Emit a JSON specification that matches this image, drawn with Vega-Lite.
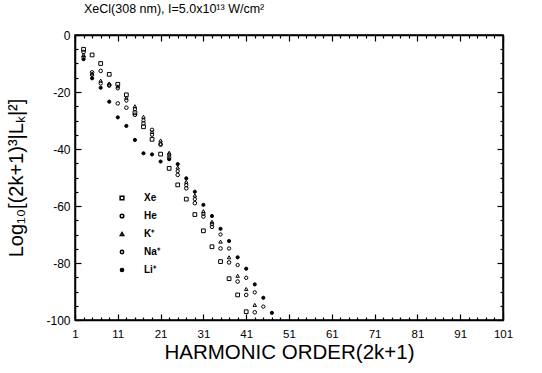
{
  "$schema": "https://vega.github.io/schema/vega-lite/v6.json",
  "width": 428,
  "height": 285,
  "autosize": "none",
  "padding": {"left": 75, "top": 35, "right": 39, "bottom": 53},
  "background": "white",
  "config": {
    "font": "Liberation Sans",
    "view": {"stroke": "black", "strokeWidth": 1.5},
    "axis": {"grid": false, "domainColor": "black", "domainWidth": 1.5, "tickColor": "black", "tickWidth": 1.2, "labelColor": "black", "titleColor": "black", "titleFontWeight": "normal", "labelFont": "Liberation Sans", "titleFont": "Liberation Sans"}
  },
  "title": {"text": "XeCl(308 nm), I=5.0x10¹³ W/cm²", "anchor": "start", "frame": "group", "fontSize": 12.5, "fontWeight": "normal", "offset": 14, "dx": 9, "font": "Liberation Sans", "color": "black"},
  "data": {"values": [
    {"s": "Xe", "h": 3, "v": -5}, {"s": "Xe", "h": 5, "v": -7}, {"s": "Xe", "h": 7, "v": -10}, {"s": "Xe", "h": 9, "v": -13.8}, {"s": "Xe", "h": 11, "v": -17.3}, {"s": "Xe", "h": 13, "v": -21}, {"s": "Xe", "h": 15, "v": -27.3}, {"s": "Xe", "h": 17, "v": -32.2}, {"s": "Xe", "h": 19, "v": -36.6}, {"s": "Xe", "h": 21, "v": -41.8}, {"s": "Xe", "h": 23, "v": -46.8}, {"s": "Xe", "h": 25, "v": -52.6}, {"s": "Xe", "h": 27, "v": -57.6}, {"s": "Xe", "h": 29, "v": -63}, {"s": "Xe", "h": 31, "v": -68.7}, {"s": "Xe", "h": 33, "v": -74.3}, {"s": "Xe", "h": 35, "v": -79.5}, {"s": "Xe", "h": 37, "v": -85.5}, {"s": "Xe", "h": 39, "v": -91.2}, {"s": "Xe", "h": 41, "v": -97.1},
    {"s": "He", "h": 3, "v": -6}, {"s": "He", "h": 5, "v": -13.1}, {"s": "He", "h": 7, "v": -12.6}, {"s": "He", "h": 9, "v": -17.5}, {"s": "He", "h": 11, "v": -24}, {"s": "He", "h": 13, "v": -25.5}, {"s": "He", "h": 15, "v": -28}, {"s": "He", "h": 17, "v": -31}, {"s": "He", "h": 19, "v": -33.3}, {"s": "He", "h": 21, "v": -38.5}, {"s": "He", "h": 23, "v": -43}, {"s": "He", "h": 25, "v": -49.1}, {"s": "He", "h": 27, "v": -53.8}, {"s": "He", "h": 29, "v": -59}, {"s": "He", "h": 31, "v": -63.7}, {"s": "He", "h": 33, "v": -67.3}, {"s": "He", "h": 35, "v": -74.9}, {"s": "He", "h": 37, "v": -79.8}, {"s": "He", "h": 39, "v": -86.5}, {"s": "He", "h": 41, "v": -91.2}, {"s": "He", "h": 43, "v": -97.3},
    {"s": "K⁺", "h": 3, "v": -7}, {"s": "K⁺", "h": 5, "v": -13.5}, {"s": "K⁺", "h": 7, "v": -16}, {"s": "K⁺", "h": 9, "v": -17}, {"s": "K⁺", "h": 11, "v": -18}, {"s": "K⁺", "h": 13, "v": -22}, {"s": "K⁺", "h": 15, "v": -25}, {"s": "K⁺", "h": 17, "v": -28.7}, {"s": "K⁺", "h": 19, "v": -34}, {"s": "K⁺", "h": 21, "v": -37}, {"s": "K⁺", "h": 23, "v": -41.3}, {"s": "K⁺", "h": 25, "v": -46.5}, {"s": "K⁺", "h": 27, "v": -51.5}, {"s": "K⁺", "h": 29, "v": -56.3}, {"s": "K⁺", "h": 31, "v": -61.8}, {"s": "K⁺", "h": 33, "v": -65.5}, {"s": "K⁺", "h": 35, "v": -72.5}, {"s": "K⁺", "h": 37, "v": -78}, {"s": "K⁺", "h": 39, "v": -84.5}, {"s": "K⁺", "h": 41, "v": -89.1}, {"s": "K⁺", "h": 43, "v": -94.7},
    {"s": "Na⁺", "h": 3, "v": -7.8}, {"s": "Na⁺", "h": 5, "v": -14}, {"s": "Na⁺", "h": 7, "v": -17}, {"s": "Na⁺", "h": 9, "v": -17.8}, {"s": "Na⁺", "h": 11, "v": -18.7}, {"s": "Na⁺", "h": 13, "v": -23}, {"s": "Na⁺", "h": 15, "v": -26}, {"s": "Na⁺", "h": 17, "v": -30}, {"s": "Na⁺", "h": 19, "v": -35}, {"s": "Na⁺", "h": 21, "v": -38.2}, {"s": "Na⁺", "h": 23, "v": -42}, {"s": "Na⁺", "h": 25, "v": -47.8}, {"s": "Na⁺", "h": 27, "v": -52.7}, {"s": "Na⁺", "h": 29, "v": -57.6}, {"s": "Na⁺", "h": 31, "v": -62.8}, {"s": "Na⁺", "h": 33, "v": -66.4}, {"s": "Na⁺", "h": 35, "v": -70}, {"s": "Na⁺", "h": 37, "v": -74.9}, {"s": "Na⁺", "h": 39, "v": -80.7}, {"s": "Na⁺", "h": 41, "v": -85.2}, {"s": "Na⁺", "h": 43, "v": -90.3}, {"s": "Na⁺", "h": 45, "v": -95.3},
    {"s": "Li⁺", "h": 3, "v": -8.5}, {"s": "Li⁺", "h": 5, "v": -15.2}, {"s": "Li⁺", "h": 7, "v": -18.5}, {"s": "Li⁺", "h": 9, "v": -23.4}, {"s": "Li⁺", "h": 11, "v": -28.9}, {"s": "Li⁺", "h": 13, "v": -31.9}, {"s": "Li⁺", "h": 15, "v": -36.8}, {"s": "Li⁺", "h": 17, "v": -41.5}, {"s": "Li⁺", "h": 19, "v": -41.9}, {"s": "Li⁺", "h": 21, "v": -44.4}, {"s": "Li⁺", "h": 23, "v": -43.6}, {"s": "Li⁺", "h": 25, "v": -45.3}, {"s": "Li⁺", "h": 27, "v": -50.3}, {"s": "Li⁺", "h": 29, "v": -55}, {"s": "Li⁺", "h": 31, "v": -59.6}, {"s": "Li⁺", "h": 33, "v": -63.5}, {"s": "Li⁺", "h": 35, "v": -68}, {"s": "Li⁺", "h": 37, "v": -72.3}, {"s": "Li⁺", "h": 39, "v": -78}, {"s": "Li⁺", "h": 41, "v": -82}, {"s": "Li⁺", "h": 43, "v": -87.5}, {"s": "Li⁺", "h": 45, "v": -92.2}, {"s": "Li⁺", "h": 47, "v": -97.5}
  ]},
  "layer": [
    {
      "mark": {"type": "point", "strokeWidth": 1, "opacity": 1},
      "encoding": {
        "x": {"field": "h", "type": "quantitative", "scale": {"domain": [1, 101], "nice": false, "zero": false},
          "axis": {"values": [1,3,5,7,9,11,13,15,17,19,21,23,25,27,29,31,33,35,37,39,41,43,45,47,49,51,53,55,57,59,61,63,65,67,69,71,73,75,77,79,81,83,85,87,89,91,93,95,97,99,101],
            "labelExpr": "(datum.value - 1) % 10 == 0 ? datum.label : ''",
            "tickSize": {"condition": {"test": "(datum.value - 1) % 10 == 0", "value": -6}, "value": -3},
            "labelPadding": 14, "labelFontSize": 11.5, "labelFlush": false, "labelOverlap": false,
            "title": "HARMONIC ORDER(2k+1)", "titleFontSize": 20.5, "titlePadding": 0}},
        "y": {"field": "v", "type": "quantitative", "scale": {"domain": [-100, 0], "nice": false, "zero": false},
          "axis": {"values": [-100,-95,-90,-85,-80,-75,-70,-65,-60,-55,-50,-45,-40,-35,-30,-25,-20,-15,-10,-5,0],
            "labelExpr": "datum.value % 20 == 0 ? ('' + datum.value) : ''",
            "tickSize": {"condition": {"test": "datum.value % 20 == 0", "value": -6}, "value": -3},
            "labelPadding": 11, "labelFontSize": 12, "labelFlush": false, "labelOverlap": false,
            "title": "Log₁₀[(2k+1)³|Lₖ|²]", "titleFontSize": 20, "titlePadding": 19}},
        "shape": {"field": "s", "type": "nominal", "scale": {"domain": ["Xe", "He", "K⁺", "Na⁺", "Li⁺"], "range": ["square", "circle", "triangle-up", "circle", "circle"]},
          "legend": {"title": null, "orient": "none", "legendX": 42, "legendY": 158, "labelFontSize": 10, "labelFontWeight": "bold", "labelOffset": 17, "rowPadding": 8, "labelColor": "black"}},
        "fill": {"field": "s", "type": "nominal", "scale": {"domain": ["Xe", "He", "K⁺", "Na⁺", "Li⁺"], "range": ["transparent", "transparent", "transparent", "transparent", "black"]}},
        "stroke": {"field": "s", "type": "nominal", "scale": {"domain": ["Xe", "He", "K⁺", "Na⁺", "Li⁺"], "range": ["black", "black", "black", "black", "black"]}},
        "size": {"field": "s", "type": "nominal", "scale": {"domain": ["Xe", "He", "K⁺", "Na⁺", "Li⁺"], "range": [14, 10, 11, 13, 8]}}
      }
    },
    {
      "mark": {"type": "point", "opacity": 0},
      "encoding": {
        "x": {"field": "h", "type": "quantitative", "scale": {"domain": [1, 101], "nice": false, "zero": false},
          "axis": {"orient": "top", "values": [1,3,5,7,9,11,13,15,17,19,21,23,25,27,29,31,33,35,37,39,41,43,45,47,49,51,53,55,57,59,61,63,65,67,69,71,73,75,77,79,81,83,85,87,89,91,93,95,97,99,101],
            "labels": false, "title": null,
            "tickSize": {"condition": {"test": "(datum.value - 1) % 10 == 0", "value": -6}, "value": -3}}},
        "y": {"field": "v", "type": "quantitative", "scale": {"domain": [-100, 0], "nice": false, "zero": false},
          "axis": {"orient": "right", "values": [-100,-95,-90,-85,-80,-75,-70,-65,-60,-55,-50,-45,-40,-35,-30,-25,-20,-15,-10,-5,0],
            "labels": false, "title": null,
            "tickSize": {"condition": {"test": "datum.value % 20 == 0", "value": -6}, "value": -3}}}
      }
    }
  ],
  "resolve": {"axis": {"x": "independent", "y": "independent"}}
}
